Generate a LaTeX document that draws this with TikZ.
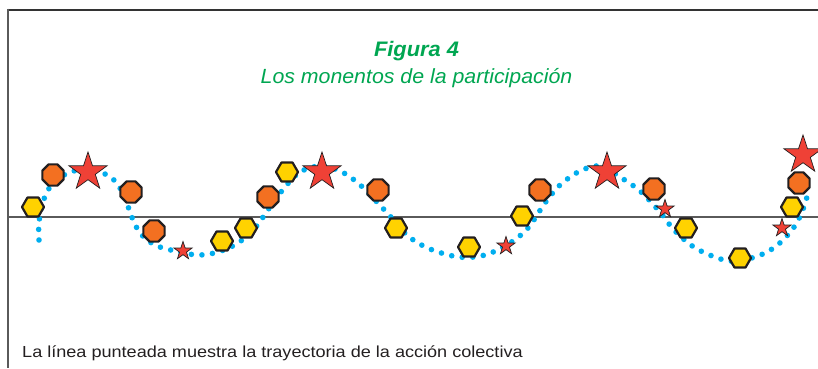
\documentclass[tikz,border=0pt]{standalone}
\usepackage{fontspec}
\setmainfont{Liberation Sans}
\newfontfamily\titlefont[FakeStretch=1.04]{Liberation Sans}
\newfontfamily\notefont[FakeStretch=1.13]{Liberation Sans}
\usetikzlibrary{shapes.geometric}
\definecolor{hexyellow}{HTML}{FFD200}
\definecolor{octorange}{HTML}{F37021}
\definecolor{starred}{HTML}{EF4136}
\definecolor{dotblue}{HTML}{00AEEF}
\definecolor{titlegreen}{HTML}{00A651}
\definecolor{outlinec}{HTML}{231F20}
\definecolor{framegray}{HTML}{5A5A5A}
\definecolor{framedark}{HTML}{333333}
\begin{document}
\begin{tikzpicture}[x=1pt,y=-1pt,
  hexa/.style={regular polygon, regular polygon sides=6, minimum size=22pt, inner sep=0pt, fill=hexyellow, draw=outlinec, line width=2.2pt, line join=round},
  octa/.style={regular polygon, regular polygon sides=8, minimum size=23pt, inner sep=0pt, fill=octorange, draw=outlinec, line width=2.2pt, line join=round},
  bigstar/.style={star, star points=5, star point ratio=2.6, minimum size=40pt, inner sep=0pt, fill=starred, draw=outlinec, line width=0.7pt},
  smallstar/.style={bigstar, minimum size=19pt},
  dotcurve/.style={draw=dotblue, line width=5.6pt, line cap=round, dash pattern=on 0pt off 10.6pt},
  titletext/.style={text=titlegreen, anchor=base, inner sep=0pt, font=\titlefont\fontsize{20.5}{24}\selectfont\itshape},
  notetext/.style={text=outlinec, anchor=base west, inner sep=0pt, font=\notefont\fontsize{16}{19}\selectfont}]
\useasboundingbox (0,0) rectangle (818,368);
% frame and axis
\draw[framedark, line width=2pt] (818,9.5) -- (7,9.5);
\draw[framegray, line width=2pt] (8,8.5) -- (8,368);
\draw[framegray, line width=1.4pt] (8,217) -- (818,217);
% titles
\node[titletext, font=\titlefont\fontsize{21}{24}\selectfont\bfseries\itshape] (fig) at (416.5,56) {Figura 4};
\node[titletext] (sub) at (416.5,83) {Los monentos de la participación};
% dotted trajectory
\draw[dotcurve] plot[smooth, tension=0.55] coordinates {
 (39,240) (39,222) (44,199) (53,183) (68,173) (85,169) (100,172) (113,179)
 (124,195) (131,215) (140,233) (155,245) (175,251) (198,255) (218,252)
 (238,243) (255,228) (270,207) (285,187) (300,172) (320,166) (340,171)
 (358,183) (375,200) (390,216) (408,236) (430,249) (459,257) (485,255)
 (510,243) (528,228) (545,203) (560,185) (580,171) (600,166) (620,177)
 (640,191) (660,212) (675,231) (697,249) (729,261) (755,257) (775,247)
 (792,230) (802,212) (809,190)};
% hexagons
\node[hexa] (h1) at (33,207) {};
\node[hexa] (h2) at (222,241) {};
\node[hexa] (h3) at (246,228) {};
\node[hexa] (h4) at (287,172) {};
\node[hexa] (h5) at (396,228) {};
\node[hexa] (h6) at (469,247) {};
\node[hexa] (h7) at (522,216) {};
\node[hexa] (h8) at (686,228) {};
\node[hexa] (h9) at (740,258) {};
\node[hexa] (h10) at (792,207) {};
% octagons
\node[octa] (o1) at (53,175) {};
\node[octa] (o2) at (131,192) {};
\node[octa] (o3) at (154,231) {};
\node[octa] (o4) at (268,197) {};
\node[octa] (o5) at (378,190) {};
\node[octa] (o6) at (540,190) {};
\node[octa] (o7) at (654,189) {};
\node[octa] (o8) at (799,183) {};
% stars
\node[bigstar] (b1) at (88,172) {};
\node[bigstar] (b2) at (322,172) {};
\node[bigstar] (b3) at (607,172) {};
\node[bigstar] (b4) at (803,155) {};
\node[smallstar] (t1) at (183,251) {};
\node[smallstar] (t2) at (506,246) {};
\node[smallstar] (t3) at (665,209) {};
\node[smallstar] (t4) at (782,228) {};
% note
\node[notetext] (note) at (22,357) {La línea punteada muestra la trayectoria de la acción colectiva};
\end{tikzpicture}
\end{document}
